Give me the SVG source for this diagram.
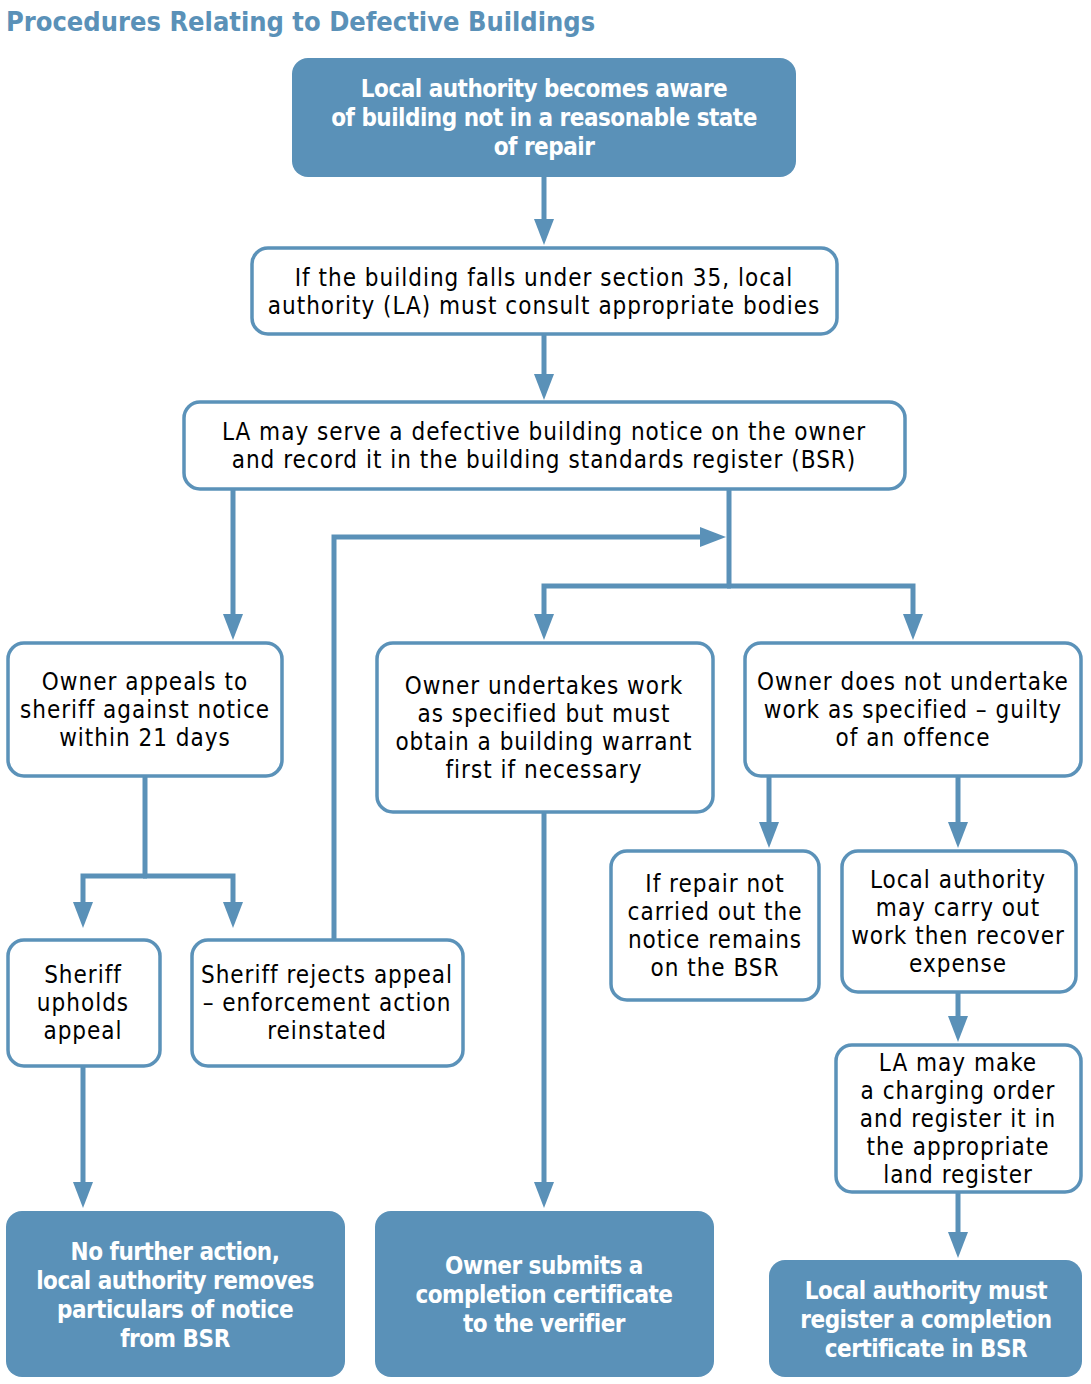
<svg xmlns="http://www.w3.org/2000/svg" width="1091" height="1384" viewBox="0 0 1091 1384">
<style>
.box{fill:#fff;stroke:#5b92b9;stroke-width:3.5}
.fbox{fill:#5a91b8;stroke:none}
.t{font-family:"DejaVu Sans Condensed","DejaVu Sans",sans-serif;font-stretch:condensed;font-size:24px;letter-spacing:1px;fill:#000;text-anchor:middle}
.b{font-family:"DejaVu Sans Condensed","DejaVu Sans",sans-serif;font-stretch:condensed;font-weight:bold;font-size:24px;letter-spacing:-0.5px;fill:#fff;text-anchor:middle}
.title{font-family:"DejaVu Sans Condensed","DejaVu Sans",sans-serif;font-stretch:condensed;font-weight:bold;font-size:27px;fill:#5a91b8}
.c{fill:none;stroke:#5a91b8;stroke-width:5}
.ca{fill:none;stroke:#5a91b8;stroke-width:5;marker-end:url(#ah)}
</style>
<defs>
<marker id="ah" markerUnits="userSpaceOnUse" markerWidth="26" markerHeight="20" refX="6" refY="10" orient="auto" viewBox="0 0 26 20">
<path d="M0,0 L26,10 L0,20 z" fill="#5a91b8"/>
</marker>
</defs>
<rect width="1091" height="1384" fill="#fff"/>
<text class="title" x="6" y="31">Procedures Relating to Defective Buildings</text>

<g id="connectors">
<path class="ca" d="M544,177 V225"/>
<path class="ca" d="M544,334 V380"/>
<path class="ca" d="M233,489 V620"/>
<path class="c" d="M729,489 V586"/>
<path class="ca" d="M731,586 H544 V620"/>
<path class="ca" d="M727,586 H913 V620"/>
<path class="ca" d="M334,939 V537 H706"/>
<path class="c" d="M145,776 V876"/>
<path class="ca" d="M147,876 H83 V908"/>
<path class="ca" d="M143,876 H233 V908"/>
<path class="ca" d="M83,1066 V1188"/>
<path class="ca" d="M544,812 V1188"/>
<path class="ca" d="M769,776 V828"/>
<path class="ca" d="M958,776 V828"/>
<path class="ca" d="M958,992 V1022"/>
<path class="ca" d="M958,1192 V1238"/>
</g>

<g id="n1">
<rect class="fbox" x="292" y="58" width="504" height="119" rx="16"/>
<text class="b"><tspan x="544" y="97">Local authority becomes aware</tspan><tspan x="544" y="126">of building not in a reasonable state</tspan><tspan x="544" y="155">of repair</tspan></text>
</g>
<g id="n2">
<rect class="box" x="252" y="248" width="585" height="86" rx="16"/>
<text class="t"><tspan x="544" y="286">If the building falls under section 35, local</tspan><tspan x="544" y="314">authority (LA) must consult appropriate bodies</tspan></text>
</g>
<g id="n3">
<rect class="box" x="184" y="402" width="721" height="87" rx="16"/>
<text class="t"><tspan x="544" y="440">LA may serve a defective building notice on the owner</tspan><tspan x="544" y="468">and record it in the building standards register (BSR)</tspan></text>
</g>
<g id="n4">
<rect class="box" x="8" y="643" width="274" height="133" rx="16"/>
<text class="t"><tspan x="145" y="690">Owner appeals to</tspan><tspan x="145" y="718">sheriff against notice</tspan><tspan x="145" y="746">within 21 days</tspan></text>
</g>
<g id="n5">
<rect class="box" x="377" y="643" width="336" height="169" rx="16"/>
<text class="t"><tspan x="544" y="694">Owner undertakes work</tspan><tspan x="544" y="722">as specified but must</tspan><tspan x="544" y="750">obtain a building warrant</tspan><tspan x="544" y="778">first if necessary</tspan></text>
</g>
<g id="n6">
<rect class="box" x="745" y="643" width="336" height="133" rx="16"/>
<text class="t"><tspan x="913" y="690">Owner does not undertake</tspan><tspan x="913" y="718">work as specified – guilty</tspan><tspan x="913" y="746">of an offence</tspan></text>
</g>
<g id="n7">
<rect class="box" x="8" y="940" width="152" height="126" rx="16"/>
<text class="t"><tspan x="83" y="983">Sheriff</tspan><tspan x="83" y="1011">upholds</tspan><tspan x="83" y="1039">appeal</tspan></text>
</g>
<g id="n8">
<rect class="box" x="192" y="940" width="271" height="126" rx="16"/>
<text class="t"><tspan x="327" y="983">Sheriff rejects appeal</tspan><tspan x="327" y="1011">– enforcement action</tspan><tspan x="327" y="1039">reinstated</tspan></text>
</g>
<g id="n9">
<rect class="box" x="611" y="851" width="208" height="149" rx="16"/>
<text class="t"><tspan x="715" y="892">If repair not</tspan><tspan x="715" y="920">carried out the</tspan><tspan x="715" y="948">notice remains</tspan><tspan x="715" y="976">on the BSR</tspan></text>
</g>
<g id="n10">
<rect class="box" x="842" y="851" width="234" height="141" rx="16"/>
<text class="t"><tspan x="958" y="888">Local authority</tspan><tspan x="958" y="916">may carry out</tspan><tspan x="958" y="944">work then recover</tspan><tspan x="958" y="972">expense</tspan></text>
</g>
<g id="n11">
<rect class="box" x="836" y="1045" width="245" height="147" rx="16"/>
<text class="t"><tspan x="958" y="1071">LA may make</tspan><tspan x="958" y="1099">a charging order</tspan><tspan x="958" y="1127">and register it in</tspan><tspan x="958" y="1155">the appropriate</tspan><tspan x="958" y="1183">land register</tspan></text>
</g>
<g id="n12">
<rect class="fbox" x="6" y="1211" width="339" height="166" rx="16"/>
<text class="b"><tspan x="175" y="1260">No further action,</tspan><tspan x="175" y="1289">local authority removes</tspan><tspan x="175" y="1318">particulars of notice</tspan><tspan x="175" y="1347">from BSR</tspan></text>
</g>
<g id="n13">
<rect class="fbox" x="375" y="1211" width="339" height="166" rx="16"/>
<text class="b"><tspan x="544" y="1274">Owner submits a</tspan><tspan x="544" y="1303">completion certificate</tspan><tspan x="544" y="1332">to the verifier</tspan></text>
</g>
<g id="n14">
<rect class="fbox" x="769" y="1260" width="313" height="117" rx="16"/>
<text class="b"><tspan x="926" y="1299">Local authority must</tspan><tspan x="926" y="1328">register a completion</tspan><tspan x="926" y="1357">certificate in BSR</tspan></text>
</g>
</svg>
